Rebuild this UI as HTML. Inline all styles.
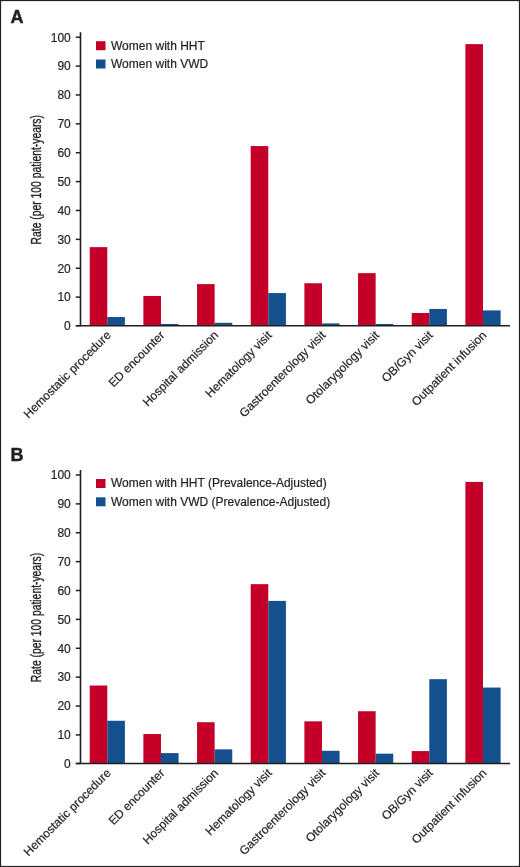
<!DOCTYPE html>
<html><head><meta charset="utf-8"><style>
html,body{margin:0;padding:0;background:#fff;}
svg{display:block;font-family:"Liberation Sans", sans-serif;will-change:transform;}
.t{font-size:12px;fill:#231f20;stroke:#231f20;stroke-width:0.2px;}
</style></head><body>
<svg width="520" height="867" viewBox="0 0 520 867">
<rect x="0" y="0" width="520" height="867" fill="#fff"/>
<text x="10.5" y="23.0" font-size="18" font-weight="bold" fill="#231f20" stroke="#231f20" stroke-width="0.45">A</text>
<rect x="89.70" y="247.15" width="17.60" height="78.55" fill="#c40029"/>
<rect x="107.30" y="317.04" width="17.60" height="8.66" fill="#13508d"/>
<rect x="143.37" y="295.95" width="17.60" height="29.75" fill="#c40029"/>
<rect x="160.97" y="323.97" width="17.60" height="1.73" fill="#13508d"/>
<rect x="197.04" y="284.11" width="17.60" height="41.59" fill="#c40029"/>
<rect x="214.64" y="322.81" width="17.60" height="2.89" fill="#13508d"/>
<rect x="250.71" y="146.07" width="17.60" height="179.63" fill="#c40029"/>
<rect x="268.31" y="293.07" width="17.60" height="32.63" fill="#13508d"/>
<rect x="304.38" y="283.25" width="17.60" height="42.45" fill="#c40029"/>
<rect x="321.98" y="323.39" width="17.60" height="2.31" fill="#13508d"/>
<rect x="358.05" y="273.14" width="17.60" height="52.56" fill="#c40029"/>
<rect x="375.65" y="323.97" width="17.60" height="1.73" fill="#13508d"/>
<rect x="411.72" y="312.99" width="17.60" height="12.71" fill="#c40029"/>
<rect x="429.32" y="308.95" width="17.60" height="16.75" fill="#13508d"/>
<rect x="465.39" y="44.12" width="17.60" height="281.58" fill="#c40029"/>
<rect x="482.99" y="310.39" width="17.60" height="15.31" fill="#13508d"/>
<line x1="80.5" y1="32.30" x2="80.5" y2="325.70" stroke="#231f20" stroke-width="1.6"/>
<line x1="75.8" y1="325.70" x2="510" y2="325.70" stroke="#231f20" stroke-width="1.6"/>
<line x1="75.8" y1="325.70" x2="80.5" y2="325.70" stroke="#231f20" stroke-width="1.5"/>
<text x="70.8" y="330.00" class="t" text-anchor="end">0</text>
<line x1="75.8" y1="297.12" x2="80.5" y2="297.12" stroke="#231f20" stroke-width="1.5"/>
<text x="70.8" y="301.42" class="t" text-anchor="end">10</text>
<line x1="75.8" y1="268.24" x2="80.5" y2="268.24" stroke="#231f20" stroke-width="1.5"/>
<text x="70.8" y="272.54" class="t" text-anchor="end">20</text>
<line x1="75.8" y1="239.36" x2="80.5" y2="239.36" stroke="#231f20" stroke-width="1.5"/>
<text x="70.8" y="243.66" class="t" text-anchor="end">30</text>
<line x1="75.8" y1="210.48" x2="80.5" y2="210.48" stroke="#231f20" stroke-width="1.5"/>
<text x="70.8" y="214.78" class="t" text-anchor="end">40</text>
<line x1="75.8" y1="181.60" x2="80.5" y2="181.60" stroke="#231f20" stroke-width="1.5"/>
<text x="70.8" y="185.90" class="t" text-anchor="end">50</text>
<line x1="75.8" y1="152.72" x2="80.5" y2="152.72" stroke="#231f20" stroke-width="1.5"/>
<text x="70.8" y="157.02" class="t" text-anchor="end">60</text>
<line x1="75.8" y1="123.84" x2="80.5" y2="123.84" stroke="#231f20" stroke-width="1.5"/>
<text x="70.8" y="128.14" class="t" text-anchor="end">70</text>
<line x1="75.8" y1="94.96" x2="80.5" y2="94.96" stroke="#231f20" stroke-width="1.5"/>
<text x="70.8" y="99.26" class="t" text-anchor="end">80</text>
<line x1="75.8" y1="66.08" x2="80.5" y2="66.08" stroke="#231f20" stroke-width="1.5"/>
<text x="70.8" y="70.38" class="t" text-anchor="end">90</text>
<line x1="75.8" y1="37.20" x2="80.5" y2="37.20" stroke="#231f20" stroke-width="1.5"/>
<text x="70.8" y="41.50" class="t" text-anchor="end">100</text>
<text transform="translate(40.5 179.7) rotate(-90) scale(0.74 1)" font-size="14" text-anchor="middle" fill="#231f20" stroke="#231f20" stroke-width="0.35">Rate (per 100 patient-years)</text>
<text transform="translate(111.60 335.90) rotate(-45)" class="t" text-anchor="end">Hemostatic procedure</text>
<text transform="translate(165.27 335.90) rotate(-45)" class="t" text-anchor="end">ED encounter</text>
<text transform="translate(218.94 335.90) rotate(-45)" class="t" text-anchor="end">Hospital admission</text>
<text transform="translate(272.61 335.90) rotate(-45)" class="t" text-anchor="end">Hematology visit</text>
<text transform="translate(326.28 335.90) rotate(-45)" class="t" text-anchor="end">Gastroenterology visit</text>
<text transform="translate(379.95 335.90) rotate(-45)" class="t" text-anchor="end">Otolarygology visit</text>
<text transform="translate(433.62 335.90) rotate(-45)" class="t" text-anchor="end">OB/Gyn visit</text>
<text transform="translate(487.29 335.90) rotate(-45)" class="t" text-anchor="end">Outpatient infusion</text>
<rect x="96" y="41.20" width="9.5" height="9" fill="#c40029"/>
<rect x="96" y="59.50" width="9.5" height="9" fill="#13508d"/>
<text x="111" y="49.50" class="t">Women with HHT</text>
<text x="111" y="67.80" class="t">Women with VWD</text>
<text x="10.5" y="460.8" font-size="18" font-weight="bold" fill="#231f20" stroke="#231f20" stroke-width="0.45">B</text>
<rect x="89.70" y="685.52" width="17.60" height="77.98" fill="#c40029"/>
<rect x="107.30" y="720.76" width="17.60" height="42.74" fill="#13508d"/>
<rect x="143.37" y="734.04" width="17.60" height="29.46" fill="#c40029"/>
<rect x="160.97" y="753.10" width="17.60" height="10.40" fill="#13508d"/>
<rect x="197.04" y="722.20" width="17.60" height="41.30" fill="#c40029"/>
<rect x="214.64" y="749.35" width="17.60" height="14.15" fill="#13508d"/>
<rect x="250.71" y="584.16" width="17.60" height="179.34" fill="#c40029"/>
<rect x="268.31" y="600.91" width="17.60" height="162.59" fill="#13508d"/>
<rect x="304.38" y="721.34" width="17.60" height="42.16" fill="#c40029"/>
<rect x="321.98" y="750.79" width="17.60" height="12.71" fill="#13508d"/>
<rect x="358.05" y="711.23" width="17.60" height="52.27" fill="#c40029"/>
<rect x="375.65" y="753.68" width="17.60" height="9.82" fill="#13508d"/>
<rect x="411.72" y="751.08" width="17.60" height="12.42" fill="#c40029"/>
<rect x="429.32" y="679.17" width="17.60" height="84.33" fill="#13508d"/>
<rect x="465.39" y="481.92" width="17.60" height="281.58" fill="#c40029"/>
<rect x="482.99" y="687.55" width="17.60" height="75.95" fill="#13508d"/>
<line x1="80.5" y1="470.10" x2="80.5" y2="763.50" stroke="#231f20" stroke-width="1.6"/>
<line x1="75.8" y1="763.50" x2="510" y2="763.50" stroke="#231f20" stroke-width="1.6"/>
<line x1="75.8" y1="763.50" x2="80.5" y2="763.50" stroke="#231f20" stroke-width="1.5"/>
<text x="70.8" y="767.80" class="t" text-anchor="end">0</text>
<line x1="75.8" y1="734.92" x2="80.5" y2="734.92" stroke="#231f20" stroke-width="1.5"/>
<text x="70.8" y="739.22" class="t" text-anchor="end">10</text>
<line x1="75.8" y1="706.04" x2="80.5" y2="706.04" stroke="#231f20" stroke-width="1.5"/>
<text x="70.8" y="710.34" class="t" text-anchor="end">20</text>
<line x1="75.8" y1="677.16" x2="80.5" y2="677.16" stroke="#231f20" stroke-width="1.5"/>
<text x="70.8" y="681.46" class="t" text-anchor="end">30</text>
<line x1="75.8" y1="648.28" x2="80.5" y2="648.28" stroke="#231f20" stroke-width="1.5"/>
<text x="70.8" y="652.58" class="t" text-anchor="end">40</text>
<line x1="75.8" y1="619.40" x2="80.5" y2="619.40" stroke="#231f20" stroke-width="1.5"/>
<text x="70.8" y="623.70" class="t" text-anchor="end">50</text>
<line x1="75.8" y1="590.52" x2="80.5" y2="590.52" stroke="#231f20" stroke-width="1.5"/>
<text x="70.8" y="594.82" class="t" text-anchor="end">60</text>
<line x1="75.8" y1="561.64" x2="80.5" y2="561.64" stroke="#231f20" stroke-width="1.5"/>
<text x="70.8" y="565.94" class="t" text-anchor="end">70</text>
<line x1="75.8" y1="532.76" x2="80.5" y2="532.76" stroke="#231f20" stroke-width="1.5"/>
<text x="70.8" y="537.06" class="t" text-anchor="end">80</text>
<line x1="75.8" y1="503.88" x2="80.5" y2="503.88" stroke="#231f20" stroke-width="1.5"/>
<text x="70.8" y="508.18" class="t" text-anchor="end">90</text>
<line x1="75.8" y1="475.00" x2="80.5" y2="475.00" stroke="#231f20" stroke-width="1.5"/>
<text x="70.8" y="479.30" class="t" text-anchor="end">100</text>
<text transform="translate(40.5 617.5) rotate(-90) scale(0.74 1)" font-size="14" text-anchor="middle" fill="#231f20" stroke="#231f20" stroke-width="0.35">Rate (per 100 patient-years)</text>
<text transform="translate(111.60 773.70) rotate(-45)" class="t" text-anchor="end">Hemostatic procedure</text>
<text transform="translate(165.27 773.70) rotate(-45)" class="t" text-anchor="end">ED encounter</text>
<text transform="translate(218.94 773.70) rotate(-45)" class="t" text-anchor="end">Hospital admission</text>
<text transform="translate(272.61 773.70) rotate(-45)" class="t" text-anchor="end">Hematology visit</text>
<text transform="translate(326.28 773.70) rotate(-45)" class="t" text-anchor="end">Gastroenterology visit</text>
<text transform="translate(379.95 773.70) rotate(-45)" class="t" text-anchor="end">Otolarygology visit</text>
<text transform="translate(433.62 773.70) rotate(-45)" class="t" text-anchor="end">OB/Gyn visit</text>
<text transform="translate(487.29 773.70) rotate(-45)" class="t" text-anchor="end">Outpatient infusion</text>
<rect x="96" y="479.00" width="9.5" height="9" fill="#c40029"/>
<rect x="96" y="497.30" width="9.5" height="9" fill="#13508d"/>
<text x="111" y="487.30" class="t">Women with HHT (Prevalence-Adjusted)</text>
<text x="111" y="505.60" class="t">Women with VWD (Prevalence-Adjusted)</text>
<rect x="0.5" y="0.5" width="519" height="866" fill="none" stroke="#231f20" stroke-width="1.2"/>
</svg>
</body></html>
